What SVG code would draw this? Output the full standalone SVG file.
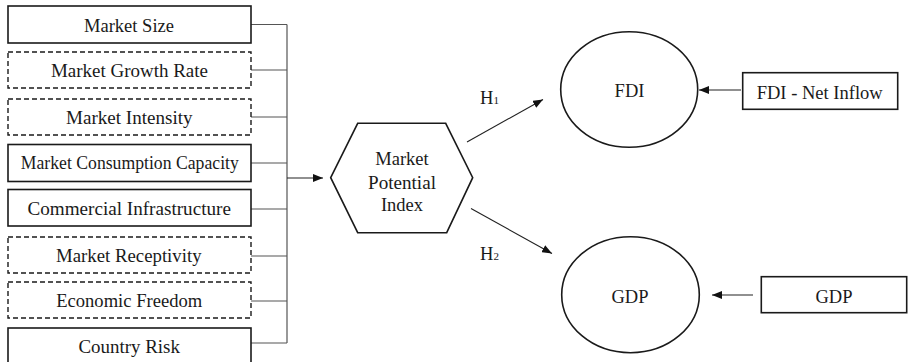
<svg xmlns="http://www.w3.org/2000/svg" width="908" height="362" viewBox="0 0 908 362">
<style>
  .box{fill:#fff;stroke:#1a1a1a;stroke-width:1.6}
  .dash{fill:#fff;stroke:#1a1a1a;stroke-width:1.4;stroke-dasharray:5 3}
  .t{font-family:"Liberation Serif","Times New Roman",serif;font-size:18.5px;fill:#1a1a1a;text-anchor:middle}
  .br{fill:none;stroke:#555;stroke-width:1.2}
  .ar{fill:none;stroke:#222;stroke-width:1.1}
  .sh{fill:#fff;stroke:#1a1a1a;stroke-width:1.6}
</style>
<defs>
  <marker id="ah" viewBox="0 0 10 8" refX="10" refY="4" markerWidth="10" markerHeight="8" markerUnits="userSpaceOnUse" orient="auto">
    <path d="M0,0 L10,4 L0,8 Z" fill="#111"/>
  </marker>
</defs>
<rect width="908" height="362" fill="#fff"/>
<g id="connectors">
  <path class="br" d="M251,24.5H287M251,70H287M251,117H287M251,163H287M251,209H287M251,256H287M251,301H287M251,343H287M287,24.5V343"/>
  <line class="ar" x1="287" y1="178" x2="323" y2="178" marker-end="url(#ah)"/>
  <line class="ar" x1="467" y1="142" x2="543" y2="99.5" marker-end="url(#ah)"/>
  <line class="ar" x1="471" y1="208.5" x2="552" y2="253.5" marker-end="url(#ah)"/>
  <line class="ar" x1="741" y1="90" x2="699" y2="90" marker-end="url(#ah)"/>
  <line class="ar" x1="753" y1="295" x2="712" y2="295" marker-end="url(#ah)"/>
  <text class="t" x="480" y="104" text-anchor="start" style="text-anchor:start">H<tspan font-size="11">1</tspan></text>
  <text class="t" x="480" y="260" style="text-anchor:start">H<tspan font-size="11">2</tspan></text>
</g>
<g id="n1"><rect class="box" x="8" y="6" width="243" height="37"/><text class="t" x="129" y="31.5" textLength="90" lengthAdjust="spacingAndGlyphs">Market Size</text></g>
<g id="n2"><rect class="dash" x="8" y="52" width="243" height="36"/><text class="t" x="129.5" y="77" textLength="157" lengthAdjust="spacingAndGlyphs">Market Growth Rate</text></g>
<g id="n3"><rect class="dash" x="8" y="99" width="243" height="36"/><text class="t" x="129.3" y="123.5" textLength="126.5" lengthAdjust="spacingAndGlyphs">Market Intensity</text></g>
<g id="n4"><rect class="box" x="8" y="144.5" width="243" height="37"/><text class="t" x="129.8" y="168.5" textLength="218" lengthAdjust="spacingAndGlyphs">Market Consumption Capacity</text></g>
<g id="n5"><rect class="box" x="8" y="189.5" width="243" height="36.5"/><text class="t" x="129.2" y="214.5" textLength="203.5" lengthAdjust="spacingAndGlyphs">Commercial Infrastructure</text></g>
<g id="n6"><rect class="dash" x="8" y="237" width="243" height="36"/><text class="t" x="128.8" y="262" textLength="145.5" lengthAdjust="spacingAndGlyphs">Market Receptivity</text></g>
<g id="n7"><rect class="dash" x="8" y="282" width="243" height="36"/><text class="t" x="129.2" y="307" textLength="146" lengthAdjust="spacingAndGlyphs">Economic Freedom</text></g>
<g id="n8"><rect class="box" x="8" y="328" width="243" height="40"/><text class="t" x="129.2" y="352.5" textLength="101.5" lengthAdjust="spacingAndGlyphs">Country Risk</text></g>
<g id="mpi">
  <polygon class="sh" points="330.7,177.7 357.7,123.3 445.7,123.3 472.7,177.7 446.7,232.7 357.7,232.7"/>
  <text class="t" x="402" y="165">Market</text>
  <text class="t" x="402" y="188.5" textLength="68" lengthAdjust="spacingAndGlyphs">Potential</text>
  <text class="t" x="402" y="211">Index</text>
</g>
<g id="fdi"><ellipse class="sh" cx="629.2" cy="89.5" rx="68.5" ry="57.8"/><text class="t" x="629.5" y="97">FDI</text></g>
<g id="gdp"><ellipse class="sh" cx="630.5" cy="294.7" rx="68.8" ry="58"/><text class="t" x="630" y="302.5">GDP</text></g>
<g id="fdi-net"><rect class="box" x="742.7" y="72.7" width="155" height="36.6"/><text class="t" x="819.7" y="98.5" textLength="126" lengthAdjust="spacingAndGlyphs">FDI - Net Inflow</text></g>
<g id="gdp-m"><rect class="box" x="761.3" y="276.7" width="145.4" height="36"/><text class="t" x="834" y="302.5">GDP</text></g>
</svg>
